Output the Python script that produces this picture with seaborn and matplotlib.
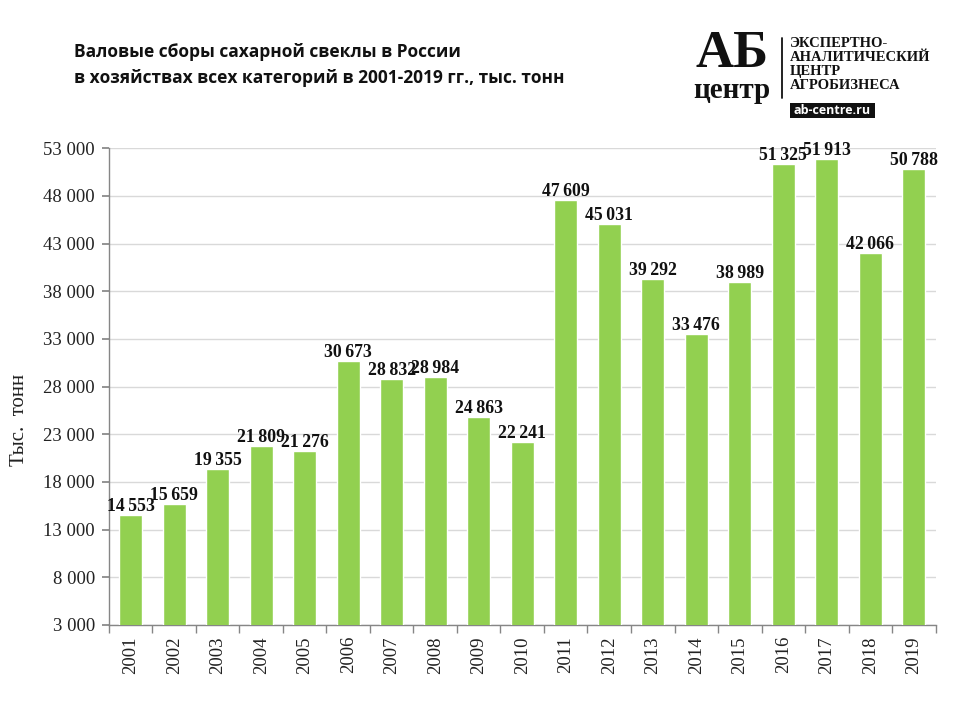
import matplotlib
matplotlib.use("Agg")
import matplotlib.pyplot as plt
import seaborn as sns
import pandas as pd
from matplotlib.ticker import FuncFormatter, FixedLocator
from matplotlib.patches import Rectangle

years = [str(y) for y in range(2001, 2020)]
values = [14553, 15659, 19355, 21809, 21276, 30673, 28832, 28984, 24863, 22241,
          47609, 45031, 39292, 33476, 38989, 51325, 51913, 42066, 50788]
yticks = [3000, 8000, 13000, 18000, 23000, 28000, 33000, 38000, 43000, 48000, 53000]

title = "Валовые сборы сахарной свеклы в России\nв хозяйствах всех категорий в 2001-2019 гг., тыс. тонн"
ylabel = "Тыс.  тонн"

sns.set_theme(style="white")
plt.rcParams['font.family'] = ['Liberation Serif', 'DejaVu Serif']

df = pd.DataFrame({"year": years, "value": values})

fig = plt.figure(figsize=(9.6, 7.2), dpi=100)
ax = fig.add_axes([0.1135, 0.132, 0.861, 0.662])

sns.barplot(data=df, x="year", y="value", color="#92D050", width=0.53,
            saturation=1, ax=ax, zorder=3)

ax.set_ylim(3000, 53000)
ax.set_xlim(-0.5, len(years) - 0.5)
ax.yaxis.set_major_locator(FixedLocator(yticks))
ax.yaxis.set_major_formatter(FuncFormatter(lambda v, p: f"{int(v):,}".replace(",", " ")))
ax.grid(axis="y", color="#D9D9D9", linewidth=1, zorder=0)
ax.set_axisbelow(True)

for s in ["top", "right"]:
    ax.spines[s].set_visible(False)
for s in ["left", "bottom"]:
    ax.spines[s].set_color("#868686")
    ax.spines[s].set_linewidth(1)

ax.tick_params(axis="y", which="major", left=True, length=5, color="#868686",
               labelsize=13.5, pad=5, labelcolor="#222222")
ax.tick_params(axis="x", which="major", bottom=False, labelsize=13.5,
               labelrotation=90, pad=2, labelcolor="#222222")
ax.xaxis.set_minor_locator(FixedLocator([i - 0.5 for i in range(len(years) + 1)]))
ax.tick_params(axis="x", which="minor", bottom=True, length=6, color="#868686")

ax.set_xlabel("")
ax.set_ylabel(ylabel, fontsize=15, color="#222222")
ax.yaxis.set_label_coords(-0.097, 0.43)

for i, v in enumerate(values):
    ax.annotate(f"{v:,}".replace(",", "\u2009"), (i, v), xytext=(0, 0),
                textcoords="offset points", ha="center", va="bottom",
                fontsize=12.8, fontweight="bold", color="#111111", zorder=5)

fig.text(0.077, 0.94, title, fontsize=12.5, fontweight="bold",
         family=["Open Sans", "DejaVu Sans"], va="top", ha="left",
         linespacing=1.55, color="#111111")

# Logo
fig.text(0.7625, 0.925, "АБ", fontsize=38, fontweight="bold",
         family=["Liberation Serif"], ha="center", va="center", color="#111111")
fig.text(0.7625, 0.874, "центр", fontsize=21, fontweight="bold",
         family=["Liberation Serif"], ha="center", va="center", color="#111111")
fig.add_artist(plt.Line2D([0.815, 0.815], [0.864, 0.947], color="#111111",
                          linewidth=1.3, transform=fig.transFigure))
fig.text(0.823, 0.949,
         "ЭКСПЕРТНО-\nАНАЛИТИЧЕСКИЙ\nЦЕНТР\nАГРОБИЗНЕСА",
         fontsize=10.5, fontweight="bold", family=["Liberation Serif"],
         ha="left", va="top", linespacing=1.12, color="#111111")
fig.add_artist(Rectangle((0.823, 0.836), 0.088, 0.021, transform=fig.transFigure,
                         facecolor="#111111", edgecolor="none"))
fig.text(0.867, 0.8465, "ab-centre.ru", fontsize=9, fontweight="bold",
         family=["Open Sans", "DejaVu Sans"], ha="center", va="center", color="white")

fig.savefig("out.png", dpi=100)
